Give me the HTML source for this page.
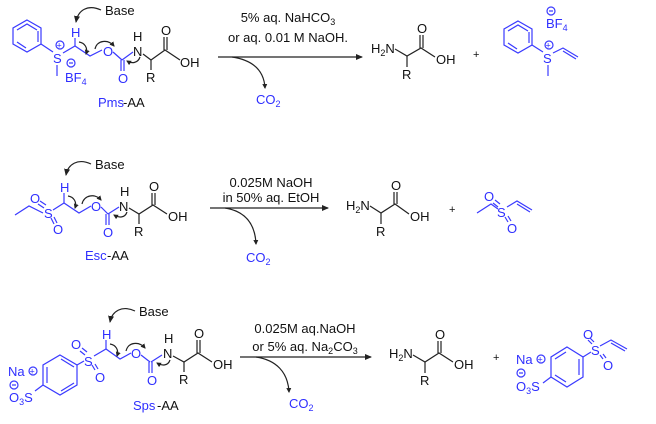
<!DOCTYPE html>
<html><head><meta charset="utf-8"><style>
html,body{margin:0;padding:0;background:#fff;width:656px;height:424px;overflow:hidden}
svg{display:block}
text{font-family:"Liberation Sans",sans-serif;font-size:13px}
.b{fill:#2f2fff}.k{fill:#111}
.lb{stroke:#3a3aff;stroke-width:1.2;fill:none}
.lk{stroke:#222;stroke-width:1.2;fill:none}
.s{font-size:9px}
</style></head><body>
<svg width="656" height="424" viewBox="0 0 656 424">
<defs>
<marker id="ah" markerWidth="8" markerHeight="8" refX="6" refY="3" orient="auto" markerUnits="userSpaceOnUse"><path d="M0,0 L7,3 L0,6 Z" fill="#222"/></marker>
<marker id="ha" markerWidth="6" markerHeight="6" refX="4" refY="2.5" orient="auto" markerUnits="userSpaceOnUse"><path d="M0,0 L5,2.5 L0,5 Z" fill="#222"/></marker>
</defs>

<!-- ============ ROW 1 ============ -->
<text x="105" y="15" class="k">Base</text>
<path d="M101,10 C88,4 78,10 76,22" class="lk" marker-end="url(#ah)"/>
<!-- benzene -->
<polygon points="27,20 41,28 41,44 27,52 13,44 13,28" class="lb"/>
<polyline points="17,30 27,24 37,30" class="lb"/><line x1="38" y1="31" x2="38" y2="42" class="lb"/><line x1="17" y1="42" x2="26" y2="48" class="lb"/>
<line x1="41" y1="44" x2="53" y2="52" class="lb"/>
<text x="53" y="63" class="b">S</text>
<circle cx="60" cy="45" r="4" class="lb"/><text x="56.5" y="48.5" class="b s">+</text>
<line x1="57" y1="65" x2="57" y2="76" class="lb"/>
<circle cx="71" cy="63" r="4" class="lb"/><line x1="69" y1="63" x2="73" y2="63" class="lb"/>
<text x="65" y="82" class="b">BF<tspan class="s" dy="3">4</tspan></text>
<polyline points="63,53 75,46 90,56 102,50" class="lb"/>
<line x1="75" y1="46" x2="75" y2="38" class="lb"/>
<text x="71" y="37" class="b">H</text>
<text x="103" y="56" class="b">O</text>
<line x1="113" y1="52" x2="122" y2="60" class="lb"/>
<line x1="121" y1="60" x2="121" y2="71" class="lb"/><line x1="124" y1="60" x2="124" y2="71" class="lb"/>
<text x="118" y="83" class="b">O</text>
<line x1="122" y1="60" x2="133" y2="52" class="lb"/>
<text x="133" y="56" class="k">N</text><text x="133" y="41" class="k">H</text>
<polyline points="143,54 151,60 165,50 180,60" class="lk"/>
<line x1="151" y1="60" x2="151" y2="70" class="lk"/><text x="146" y="82" class="k">R</text>
<line x1="164" y1="50" x2="164" y2="37" class="lk"/><line x1="167" y1="50" x2="167" y2="37" class="lk"/>
<text x="161" y="35" class="k">O</text><text x="180" y="67" class="k">OH</text>
<!-- curved arrows -->
<path d="M79,42 C85,43 88,48 86,54" class="lk" marker-end="url(#ha)"/>
<path d="M95,49 C97,40 108,39 114,46" class="lk" marker-end="url(#ha)"/>
<path d="M140,57 C138,63 132,64 127,61" class="lk" marker-end="url(#ha)"/>
<text x="98" y="107" class="b">Pms</text><text x="123" y="107" class="k">-AA</text>
<!-- reaction arrow 1 -->
<line x1="218" y1="57" x2="362" y2="57" class="lk" marker-end="url(#ah)"/>
<text x="288" y="22" class="k" text-anchor="middle">5% aq. NaHCO<tspan class="s" dy="3">3</tspan></text>
<text x="288" y="42" class="k" text-anchor="middle">or aq. 0.01 M NaOH.</text>
<path d="M232,57 C252,60 264,70 265,88" class="lk" marker-end="url(#ha)"/>
<text x="256" y="104" class="b">CO<tspan class="s" dy="3">2</tspan></text>
<!-- product 1 -->
<text x="371" y="53" class="k">H<tspan class="s" dy="3">2</tspan><tspan dy="-3">N</tspan></text>
<polyline points="395,49 407,56 421,48 435,57" class="lk"/>
<line x1="407" y1="56" x2="407" y2="67" class="lk"/><text x="402" y="79" class="k">R</text>
<line x1="420" y1="48" x2="420" y2="35" class="lk"/><line x1="423" y1="48" x2="423" y2="35" class="lk"/>
<text x="417" y="33" class="k">O</text><text x="436" y="64" class="k">OH</text>
<text x="473" y="58" class="k" style="font-size:11px">+</text>
<polygon points="518,21 532,29 532,45 518,53 504,45 504,29" class="lb"/>
<polyline points="508,31 518,25 528,31" class="lb"/><line x1="529" y1="32" x2="529" y2="43" class="lb"/><line x1="508" y1="43" x2="517" y2="49" class="lb"/>
<line x1="532" y1="45" x2="543" y2="52" class="lb"/>
<text x="543" y="63" class="b">S</text>
<circle cx="549" cy="45" r="4" class="lb"/><text x="545.5" y="48.5" class="b s">+</text>
<line x1="548" y1="65" x2="548" y2="76" class="lb"/>
<polyline points="553,53 563,48 578,57" class="lb"/><line x1="563" y1="51" x2="576" y2="59" class="lb"/>
<circle cx="551" cy="11" r="4" class="lb"/><line x1="549" y1="11" x2="553" y2="11" class="lb"/>
<text x="546" y="28" class="b">BF<tspan class="s" dy="3">4</tspan></text>

<!-- ============ ROW 2 ============ -->
<text x="95" y="169" class="k">Base</text>
<path d="M91,164 C78,158 68,164 66,175" class="lk" marker-end="url(#ah)"/>
<polyline points="15,215 29,206 43,213" class="lb"/>
<text x="44" y="218" class="b">S</text>
<line x1="44" y1="208" x2="38" y2="204" class="lb"/><line x1="46" y1="205" x2="40" y2="201" class="lb"/>
<text x="30" y="203" class="b">O</text>
<line x1="51" y1="218" x2="54" y2="224" class="lb"/><line x1="54" y1="217" x2="57" y2="223" class="lb"/>
<text x="53" y="234" class="b">O</text>
<polyline points="53,210 64,203 79,213 91,206" class="lb"/>
<line x1="64" y1="203" x2="64" y2="193" class="lb"/><text x="60" y="192" class="b">H</text>
<text x="91" y="211" class="b">O</text>
<line x1="101" y1="207" x2="108" y2="214" class="lb"/>
<line x1="106" y1="214" x2="106" y2="225" class="lb"/><line x1="109" y1="214" x2="109" y2="225" class="lb"/>
<text x="103" y="237" class="b">O</text>
<line x1="108" y1="214" x2="119" y2="207" class="lb"/>
<text x="119" y="211" class="k">N</text><text x="120" y="196" class="k">H</text>
<polyline points="129,208 139,214 153,205 167,214" class="lk"/>
<line x1="139" y1="214" x2="139" y2="224" class="lk"/><text x="134" y="236" class="k">R</text>
<line x1="152" y1="205" x2="152" y2="193" class="lk"/><line x1="155" y1="205" x2="155" y2="193" class="lk"/>
<text x="149" y="191" class="k">O</text><text x="168" y="221" class="k">OH</text>
<path d="M68,196 C74,197 77,202 75,208" class="lk" marker-end="url(#ha)"/>
<path d="M82,204 C84,195 95,193 101,200" class="lk" marker-end="url(#ha)"/>
<path d="M127,212 C125,218 119,218 114,215" class="lk" marker-end="url(#ha)"/>
<text x="85" y="260" class="b">Esc</text><text x="107" y="260" class="k">-AA</text>
<line x1="210" y1="208" x2="328" y2="208" class="lk" marker-end="url(#ah)"/>
<text x="271" y="187" class="k" text-anchor="middle">0.025M NaOH</text>
<text x="271" y="202" class="k" text-anchor="middle">in 50% aq. EtOH</text>
<path d="M225,208 C244,211 255,222 256,244" class="lk" marker-end="url(#ha)"/>
<text x="246" y="262" class="b">CO<tspan class="s" dy="3">2</tspan></text>
<text x="346" y="210" class="k">H<tspan class="s" dy="3">2</tspan><tspan dy="-3">N</tspan></text>
<polyline points="370,206 381,213 395,204 409,214" class="lk"/>
<line x1="381" y1="213" x2="381" y2="224" class="lk"/><text x="376" y="236" class="k">R</text>
<line x1="394" y1="204" x2="394" y2="192" class="lk"/><line x1="397" y1="204" x2="397" y2="192" class="lk"/>
<text x="391" y="190" class="k">O</text><text x="410" y="221" class="k">OH</text>
<text x="449" y="213" class="k" style="font-size:11px">+</text>
<polyline points="477,213 491,204 498,209" class="lb"/>
<text x="497" y="217" class="b">S</text>
<line x1="498" y1="207" x2="493" y2="203" class="lb"/><line x1="500" y1="204" x2="495" y2="200" class="lb"/>
<text x="484" y="201" class="b">O</text>
<line x1="505" y1="217" x2="508" y2="222" class="lb"/><line x1="508" y1="216" x2="511" y2="221" class="lb"/>
<text x="507" y="233" class="b">O</text>
<polyline points="507,207 517,201 532,210" class="lb"/><line x1="517" y1="204" x2="530" y2="212" class="lb"/>

<!-- ============ ROW 3 ============ -->
<text x="139" y="316" class="k">Base</text>
<path d="M135,311 C122,305 112,311 110,322" class="lk" marker-end="url(#ah)"/>
<polygon points="60,355 77,365 77,385 60,395 43,385 43,365" class="lb"/>
<line x1="47" y1="367" x2="47" y2="383" class="lb"/><line x1="61" y1="359" x2="74" y2="367" class="lb"/><line x1="61" y1="391" x2="74" y2="383" class="lb"/>
<line x1="77" y1="365" x2="84" y2="361" class="lb"/>
<text x="84" y="366" class="b">S</text>
<line x1="85" y1="355" x2="80" y2="351" class="lb"/><line x1="87" y1="352" x2="82" y2="348" class="lb"/>
<text x="71" y="349" class="b">O</text>
<line x1="92" y1="365" x2="95" y2="370" class="lb"/><line x1="95" y1="364" x2="98" y2="369" class="lb"/>
<text x="95" y="382" class="b">O</text>
<line x1="43" y1="385" x2="35" y2="391" class="lb"/>
<text x="9" y="402" class="b">O<tspan class="s" dy="3">3</tspan><tspan dy="-3">S</tspan></text>
<text x="8" y="376" class="b">Na</text>
<circle cx="33" cy="371" r="4" class="lb"/><text x="29.5" y="374.5" class="b s">+</text>
<circle cx="14" cy="385" r="4" class="lb"/><line x1="12" y1="385" x2="16" y2="385" class="lb"/>
<polyline points="94,356 106,349 120,359 131,353" class="lb"/>
<line x1="106" y1="349" x2="106" y2="340" class="lb"/><text x="102" y="339" class="b">H</text>
<text x="131" y="358" class="b">O</text>
<line x1="141" y1="355" x2="150" y2="362" class="lb"/>
<line x1="149" y1="362" x2="149" y2="373" class="lb"/><line x1="152" y1="362" x2="152" y2="373" class="lb"/>
<text x="147" y="385" class="b">O</text>
<line x1="151" y1="362" x2="162" y2="355" class="lb"/>
<text x="163" y="358" class="k">N</text><text x="164" y="343" class="k">H</text>
<polyline points="173,356 184,362 198,353 212,362" class="lk"/>
<line x1="184" y1="362" x2="184" y2="372" class="lk"/><text x="179" y="384" class="k">R</text>
<line x1="197" y1="353" x2="197" y2="340" class="lk"/><line x1="200" y1="353" x2="200" y2="340" class="lk"/>
<text x="194" y="338" class="k">O</text><text x="213" y="369" class="k">OH</text>
<path d="M110,344 C116,345 119,350 117,356" class="lk" marker-end="url(#ha)"/>
<path d="M126,351 C128,342 139,341 145,348" class="lk" marker-end="url(#ha)"/>
<path d="M170,360 C168,366 162,366 157,363" class="lk" marker-end="url(#ha)"/>
<text x="133" y="410" class="b">Sps</text><text x="157" y="410" class="k">-AA</text>
<line x1="240" y1="357" x2="371" y2="357" class="lk" marker-end="url(#ah)"/>
<text x="305" y="333" class="k" text-anchor="middle">0.025M aq.NaOH</text>
<text x="305" y="351" class="k" text-anchor="middle">or 5% aq. Na<tspan class="s" dy="3">2</tspan><tspan dy="-3">CO</tspan><tspan class="s" dy="3">3</tspan></text>
<path d="M256,357 C276,360 288,372 289,392" class="lk" marker-end="url(#ha)"/>
<text x="289" y="408" class="b">CO<tspan class="s" dy="3">2</tspan></text>
<text x="389" y="358" class="k">H<tspan class="s" dy="3">2</tspan><tspan dy="-3">N</tspan></text>
<polyline points="413,355 425,362 439,353 453,362" class="lk"/>
<line x1="425" y1="362" x2="425" y2="373" class="lk"/><text x="420" y="385" class="k">R</text>
<line x1="438" y1="353" x2="438" y2="341" class="lk"/><line x1="441" y1="353" x2="441" y2="341" class="lk"/>
<text x="435" y="339" class="k">O</text><text x="454" y="369" class="k">OH</text>
<text x="493" y="361" class="k" style="font-size:11px">+</text>
<text x="516" y="364" class="b">Na</text>
<circle cx="541" cy="359" r="4" class="lb"/><text x="537.5" y="362.5" class="b s">+</text>
<circle cx="521" cy="373" r="4" class="lb"/><line x1="519" y1="373" x2="523" y2="373" class="lb"/>
<text x="516" y="391" class="b">O<tspan class="s" dy="3">3</tspan><tspan dy="-3">S</tspan></text>
<polygon points="567,347 583,357 583,377 567,387 551,377 551,357" class="lb"/>
<line x1="579" y1="359" x2="579" y2="375" class="lb"/><line x1="555" y1="359" x2="566" y2="352" class="lb"/><line x1="555" y1="375" x2="566" y2="382" class="lb"/>
<line x1="551" y1="377" x2="543" y2="383" class="lb"/>
<line x1="583" y1="357" x2="591" y2="352" class="lb"/>
<text x="591" y="355" class="b">S</text>
<line x1="592" y1="344" x2="588" y2="340" class="lb"/><line x1="594" y1="342" x2="590" y2="338" class="lb"/>
<text x="583" y="339" class="b">O</text>
<line x1="600" y1="355" x2="603" y2="359" class="lb"/><line x1="603" y1="354" x2="606" y2="358" class="lb"/>
<text x="603" y="370" class="b">O</text>
<polyline points="600,346 611,340 627,349" class="lb"/><line x1="611" y1="343" x2="625" y2="351" class="lb"/>
</svg>
</body></html>
